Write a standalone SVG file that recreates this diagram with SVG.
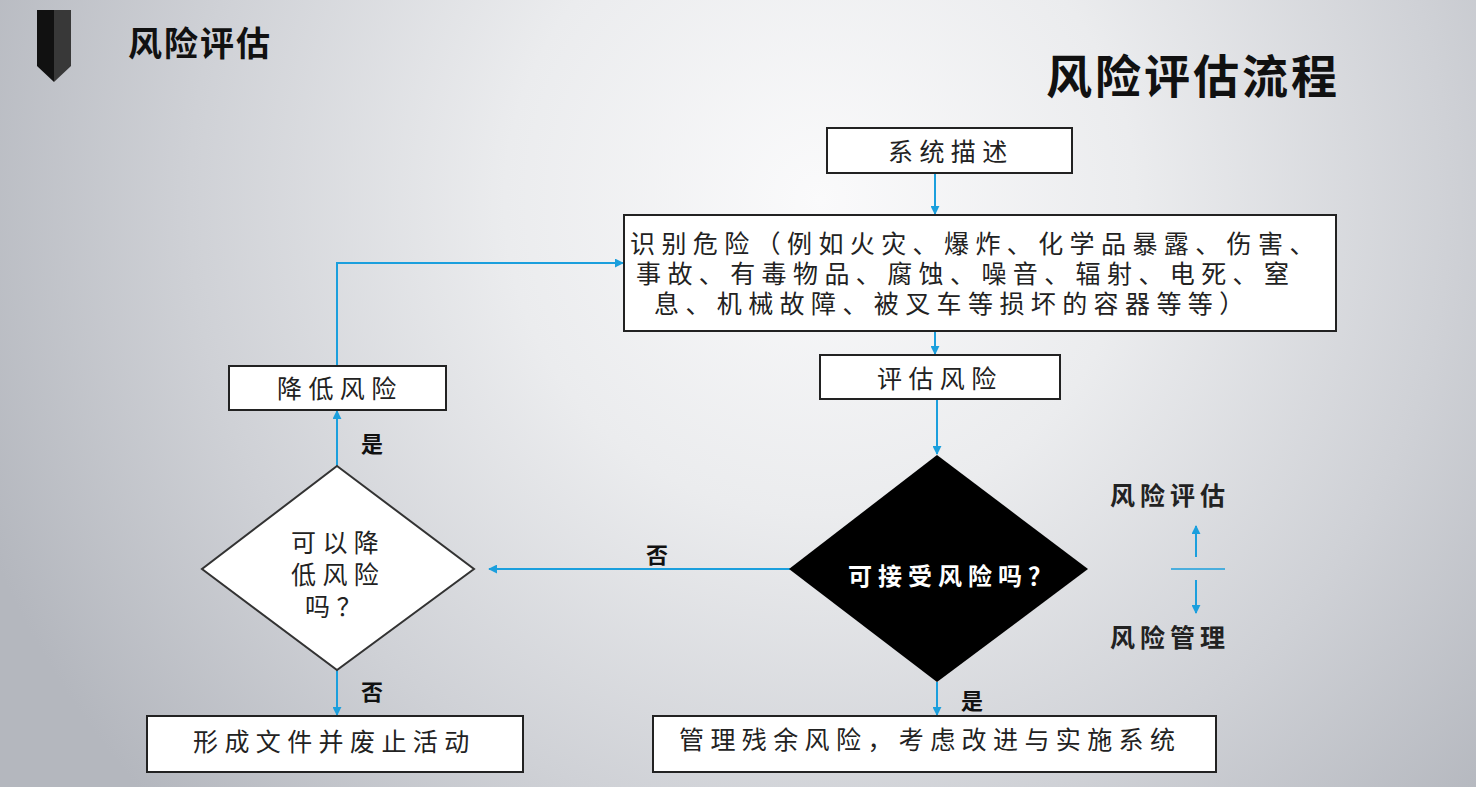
<svg xmlns="http://www.w3.org/2000/svg" width="1476" height="787" viewBox="0 0 1476 787">
<defs>
<radialGradient id="bg" cx="820" cy="200" r="900" gradientUnits="userSpaceOnUse">
<stop offset="0" stop-color="#fafafb"/>
<stop offset="0.35" stop-color="#ebecee"/>
<stop offset="0.7" stop-color="#cfd1d6"/>
<stop offset="1" stop-color="#b4b7be"/>
</radialGradient>
<marker id="arr" viewBox="0 0 10 10" refX="9" refY="5" markerWidth="9" markerHeight="9" markerUnits="userSpaceOnUse" orient="auto">
<path d="M0,0 L10,5 L0,10 z" fill="#1b9fdd"/>
</marker>
</defs>
<style>
.box{fill:#fff;stroke:#222;stroke-width:2}
.t{font-family:"Noto Sans CJK SC","Noto Sans",sans-serif;font-size:25px;fill:#222;letter-spacing:6.4px;dominant-baseline:central}
.lbl{font-family:"Noto Sans CJK SC","Noto Sans",sans-serif;font-size:22px;font-weight:bold;fill:#111;dominant-baseline:central}
.leg{font-family:"Noto Sans CJK SC","Noto Sans",sans-serif;font-size:25px;font-weight:bold;fill:#222;letter-spacing:5px;dominant-baseline:central}
.c{fill:none;stroke:#1b9fdd;stroke-width:2}
</style>
<rect width="1476" height="787" fill="url(#bg)"/>

<g id="header">
<path d="M37,10 H54 V82 L37,66 Z" fill="#111"/>
<path d="M54,10 H71 V66 L54,82 Z" fill="#383838"/>
<text x="128" y="41" font-family="Noto Sans CJK SC, sans-serif" font-size="34" font-weight="bold" fill="#111" dominant-baseline="central" letter-spacing="2">风险评估</text>
<text x="1046" y="73" font-family="Noto Sans CJK SC, sans-serif" font-size="46" font-weight="bold" fill="#111" dominant-baseline="central" letter-spacing="3">风险评估流程</text>
</g>

<g id="connectors">
<line class="c" x1="935" y1="173" x2="935" y2="214" marker-end="url(#arr)"/>
<line class="c" x1="935" y1="331" x2="935" y2="354" marker-end="url(#arr)"/>
<line class="c" x1="937" y1="399" x2="937" y2="454" marker-end="url(#arr)"/>
<line class="c" x1="790" y1="569" x2="489" y2="569" marker-end="url(#arr)"/>
<line class="c" x1="337" y1="466" x2="337" y2="411" marker-end="url(#arr)"/>
<polyline class="c" points="337,366 337,263 623,263" marker-end="url(#arr)"/>
<line class="c" x1="337" y1="670" x2="337" y2="715" marker-end="url(#arr)"/>
<line class="c" x1="937" y1="682" x2="937" y2="715" marker-end="url(#arr)"/>
<text class="lbl" x="646" y="553">否</text>
<text class="lbl" x="361" y="442">是</text>
<text class="lbl" x="361" y="690">否</text>
<text class="lbl" x="961" y="699">是</text>
</g>

<g id="n-system">
<rect class="box" x="827" y="128" width="245" height="45"/>
<text class="t" x="888" y="150">系统描述</text>
</g>

<g id="n-identify">
<rect class="box" x="624" y="215" width="712" height="116"/>
<text class="t" x="630" y="242" letter-spacing="7">识别危险（例如火灾、爆炸、化学品暴露、伤害、</text>
<text class="t" x="636" y="272" letter-spacing="7">事故、有毒物品、腐蚀、噪音、辐射、电死、窒</text>
<text class="t" x="654" y="302" letter-spacing="7">息、机械故障、被叉车等损坏的容器等等）</text>
</g>

<g id="n-assess">
<rect class="box" x="820" y="355" width="240" height="44"/>
<text class="t" x="877" y="377">评估风险</text>
</g>

<g id="n-acceptable">
<polygon points="937,455 1088,569 937,682 789,569" fill="#000"/>
<text x="848" y="574" font-family="Noto Sans CJK SC, sans-serif" font-size="24" font-weight="bold" fill="#fff" letter-spacing="6" dominant-baseline="central">可接受风险吗？</text>
</g>

<g id="n-canreduce">
<polygon points="337,466 474,569 337,670 202,569" fill="#fff" stroke="#333" stroke-width="2"/>
<text class="t" x="291" y="541">可以降</text>
<text class="t" x="291" y="573">低风险</text>
<text class="t" x="305" y="605" letter-spacing="3">吗？</text>
</g>

<g id="n-reduce">
<rect class="box" x="229" y="366" width="217" height="44"/>
<text class="t" x="277" y="387">降低风险</text>
</g>

<g id="n-document">
<rect class="box" x="147" y="716" width="376" height="56"/>
<text class="t" x="193" y="740">形成文件并废止活动</text>
</g>

<g id="n-manage">
<rect class="box" x="653" y="716" width="563" height="56"/>
<text class="t" x="679" y="738" letter-spacing="6.8">管理残余风险，考虑改进与实施系统</text>
</g>

<g id="legend">
<text class="leg" x="1110" y="494">风险评估</text>
<line class="c" x1="1196" y1="557" x2="1196" y2="526" marker-end="url(#arr)"/>
<line x1="1171" y1="569" x2="1225" y2="569" stroke="#1b9fdd" stroke-width="1.5"/>
<line class="c" x1="1196" y1="580" x2="1196" y2="613" marker-end="url(#arr)"/>
<text class="leg" x="1110" y="636">风险管理</text>
</g>
</svg>
